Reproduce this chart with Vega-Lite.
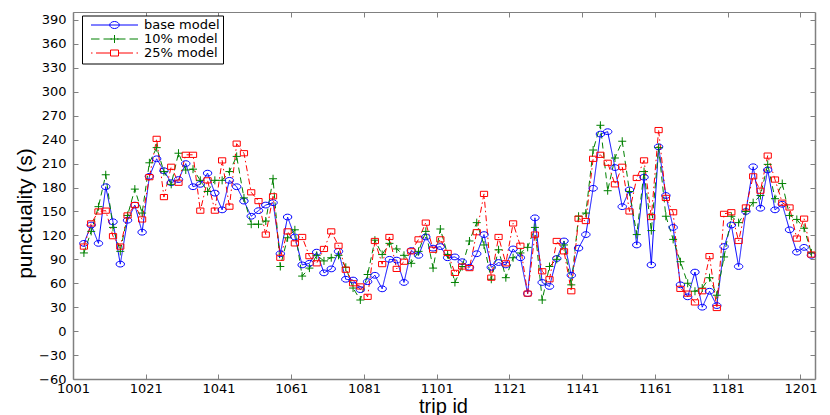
{
  "$schema": "https://vega.github.io/schema/vega-lite/v6.json",
  "autosize": {"type": "none"},
  "width": 742,
  "height": 367,
  "padding": {"left": 73, "top": 12, "right": 15, "bottom": 36},
  "background": "white",
  "data": {
    "values": [
      {"id": 1004, "base model": 110, "10% model": 98, "25% model": 106},
      {"id": 1006, "base model": 133, "10% model": 125, "25% model": 135},
      {"id": 1008, "base model": 110, "10% model": 156, "25% model": 150},
      {"id": 1010, "base model": 181, "10% model": 196, "25% model": 151},
      {"id": 1012, "base model": 137, "10% model": 130, "25% model": 119},
      {"id": 1014, "base model": 84, "10% model": 100, "25% model": 106},
      {"id": 1016, "base model": 139, "10% model": 145, "25% model": 145},
      {"id": 1018, "base model": 158, "10% model": 178, "25% model": 158},
      {"id": 1020, "base model": 124, "10% model": 148, "25% model": 140},
      {"id": 1022, "base model": 194, "10% model": 211, "25% model": 193},
      {"id": 1024, "base model": 216, "10% model": 230, "25% model": 241},
      {"id": 1026, "base model": 201, "10% model": 200, "25% model": 168},
      {"id": 1028, "base model": 186, "10% model": 184, "25% model": 206},
      {"id": 1030, "base model": 190, "10% model": 223, "25% model": 186},
      {"id": 1032, "base model": 210, "10% model": 202, "25% model": 221},
      {"id": 1034, "base model": 181, "10% model": 203, "25% model": 221},
      {"id": 1036, "base model": 184, "10% model": 189, "25% model": 151},
      {"id": 1038, "base model": 198, "10% model": 175, "25% model": 189},
      {"id": 1040, "base model": 173, "10% model": 189, "25% model": 151},
      {"id": 1042, "base model": 152, "10% model": 189, "25% model": 214},
      {"id": 1044, "base model": 189, "10% model": 200, "25% model": 156},
      {"id": 1046, "base model": 181, "10% model": 219, "25% model": 235},
      {"id": 1048, "base model": 163, "10% model": 167, "25% model": 223},
      {"id": 1050, "base model": 144, "10% model": 134, "25% model": 174},
      {"id": 1052, "base model": 151, "10% model": 134, "25% model": 163},
      {"id": 1054, "base model": 158, "10% model": 138, "25% model": 121},
      {"id": 1056, "base model": 161, "10% model": 191, "25% model": 169},
      {"id": 1058, "base model": 97, "10% model": 81, "25% model": 92},
      {"id": 1060, "base model": 143, "10% model": 117, "25% model": 125},
      {"id": 1062, "base model": 118, "10% model": 127, "25% model": 110},
      {"id": 1064, "base model": 83, "10% model": 69, "25% model": 118},
      {"id": 1066, "base model": 85, "10% model": 79, "25% model": 94},
      {"id": 1068, "base model": 99, "10% model": 95, "25% model": 85},
      {"id": 1070, "base model": 73, "10% model": 88, "25% model": 103},
      {"id": 1072, "base model": 78, "10% model": 92, "25% model": 125},
      {"id": 1074, "base model": 100, "10% model": 95, "25% model": 107},
      {"id": 1076, "base model": 65, "10% model": 80, "25% model": 77},
      {"id": 1078, "base model": 64, "10% model": 54, "25% model": 60},
      {"id": 1080, "base model": 52, "10% model": 39, "25% model": 56},
      {"id": 1082, "base model": 62, "10% model": 71, "25% model": 43},
      {"id": 1084, "base model": 70, "10% model": 114, "25% model": 113},
      {"id": 1086, "base model": 53, "10% model": 96, "25% model": 84},
      {"id": 1088, "base model": 90, "10% model": 110, "25% model": 118},
      {"id": 1090, "base model": 89, "10% model": 103, "25% model": 78},
      {"id": 1092, "base model": 61, "10% model": 95, "25% model": 87},
      {"id": 1094, "base model": 101, "10% model": 85, "25% model": 100},
      {"id": 1096, "base model": 95, "10% model": 100, "25% model": 115},
      {"id": 1098, "base model": 118, "10% model": 125, "25% model": 136},
      {"id": 1100, "base model": 104, "10% model": 79, "25% model": 102},
      {"id": 1102, "base model": 106, "10% model": 128, "25% model": 115},
      {"id": 1104, "base model": 92, "10% model": 96, "25% model": 98},
      {"id": 1106, "base model": 93, "10% model": 61, "25% model": 73},
      {"id": 1108, "base model": 87, "10% model": 81, "25% model": 81},
      {"id": 1110, "base model": 80, "10% model": 113, "25% model": 79},
      {"id": 1112, "base model": 97, "10% model": 136, "25% model": 124},
      {"id": 1114, "base model": 121, "10% model": 108, "25% model": 172},
      {"id": 1116, "base model": 80, "10% model": 65, "25% model": 67},
      {"id": 1118, "base model": 86, "10% model": 102, "25% model": 118},
      {"id": 1120, "base model": 83, "10% model": 67, "25% model": 85},
      {"id": 1122, "base model": 103, "10% model": 92, "25% model": 135},
      {"id": 1124, "base model": 92, "10% model": 98, "25% model": 107},
      {"id": 1126, "base model": 47, "10% model": 105, "25% model": 47},
      {"id": 1128, "base model": 142, "10% model": 130, "25% model": 121},
      {"id": 1130, "base model": 61, "10% model": 39, "25% model": 75},
      {"id": 1132, "base model": 56, "10% model": 81, "25% model": 65},
      {"id": 1134, "base model": 91, "10% model": 90, "25% model": 113},
      {"id": 1136, "base model": 113, "10% model": 108, "25% model": 100},
      {"id": 1138, "base model": 70, "10% model": 58, "25% model": 50},
      {"id": 1140, "base model": 104, "10% model": 144, "25% model": 141},
      {"id": 1142, "base model": 121, "10% model": 148, "25% model": 138},
      {"id": 1144, "base model": 179, "10% model": 227, "25% model": 216},
      {"id": 1146, "base model": 247, "10% model": 258, "25% model": 221},
      {"id": 1148, "base model": 250, "10% model": 176, "25% model": 211},
      {"id": 1150, "base model": 205, "10% model": 217, "25% model": 184},
      {"id": 1152, "base model": 156, "10% model": 238, "25% model": 206},
      {"id": 1154, "base model": 177, "10% model": 175, "25% model": 150},
      {"id": 1156, "base model": 108, "10% model": 121, "25% model": 192},
      {"id": 1158, "base model": 193, "10% model": 200, "25% model": 214},
      {"id": 1160, "base model": 83, "10% model": 126, "25% model": 143},
      {"id": 1162, "base model": 231, "10% model": 230, "25% model": 252},
      {"id": 1164, "base model": 170, "10% model": 144, "25% model": 167},
      {"id": 1166, "base model": 130, "10% model": 115, "25% model": 149},
      {"id": 1168, "base model": 58, "10% model": 87, "25% model": 53},
      {"id": 1170, "base model": 43, "10% model": 60, "25% model": 47},
      {"id": 1172, "base model": 74, "10% model": 50, "25% model": 36},
      {"id": 1174, "base model": 30, "10% model": 54, "25% model": 50},
      {"id": 1176, "base model": 50, "10% model": 67, "25% model": 94},
      {"id": 1178, "base model": 32, "10% model": 45, "25% model": 29},
      {"id": 1180, "base model": 106, "10% model": 93, "25% model": 147},
      {"id": 1182, "base model": 133, "10% model": 144, "25% model": 149},
      {"id": 1184, "base model": 81, "10% model": 136, "25% model": 113},
      {"id": 1186, "base model": 150, "10% model": 150, "25% model": 155},
      {"id": 1188, "base model": 206, "10% model": 161, "25% model": 194},
      {"id": 1190, "base model": 154, "10% model": 170, "25% model": 176},
      {"id": 1192, "base model": 202, "10% model": 209, "25% model": 220},
      {"id": 1194, "base model": 152, "10% model": 166, "25% model": 190},
      {"id": 1196, "base model": 159, "10% model": 185, "25% model": 161},
      {"id": 1198, "base model": 127, "10% model": 145, "25% model": 155},
      {"id": 1200, "base model": 99, "10% model": 140, "25% model": 116},
      {"id": 1202, "base model": 105, "10% model": 129, "25% model": 141},
      {"id": 1204, "base model": 95, "10% model": 98, "25% model": 96}
    ]
  },
  "transform": [
    {"fold": ["base model", "10% model", "25% model"], "as": ["model", "punctuality"]}
  ],
  "layer": [
    {
      "mark": {"type": "line", "strokeWidth": 1},
      "encoding": {
        "x": {
          "field": "id",
          "type": "quantitative",
          "scale": {"domain": [1001, 1205], "nice": false, "zero": false},
          "axis": {
            "orient": "bottom",
            "values": [1001, 1021, 1041, 1061, 1081, 1101, 1121, 1141, 1161, 1181, 1201],
            "format": "d",
            "title": "trip id",
            "grid": false,
            "tickSize": -5,
            "labelPadding": 8,
            "labelFlush": false,
            "labelOverlap": false,
            "domainColor": "#808080",
            "domainWidth": 1.5,
            "tickColor": "#808080",
            "labelFont": "DejaVu Sans",
            "labelFontSize": 13,
            "labelColor": "black",
            "titleFont": "Liberation Sans",
            "titleFontSize": 20,
            "titleFontWeight": "normal",
            "titleColor": "black",
            "titleX": 370,
            "titleY": 33,
            "titleBaseline": "alphabetic"
          }
        },
        "y": {
          "field": "punctuality",
          "type": "quantitative",
          "scale": {"domain": [-60, 400], "nice": false, "zero": false},
          "axis": {
            "orient": "left",
            "values": [-60, -30, 0, 30, 60, 90, 120, 150, 180, 210, 240, 270, 300, 330, 360, 390],
            "title": "punctuality (s)",
            "grid": false,
            "tickSize": -5,
            "labelPadding": 12,
            "labelFlush": false,
            "labelOverlap": false,
            "domainColor": "#808080",
            "domainWidth": 1.5,
            "tickColor": "#808080",
            "labelFont": "DejaVu Sans",
            "labelFontSize": 13,
            "labelColor": "black",
            "titleFont": "Liberation Sans",
            "titleFontSize": 21,
            "titleFontWeight": "normal",
            "titleColor": "black",
            "titleAngle": -90,
            "titleX": -48,
            "titleY": 201,
            "titleAlign": "center",
            "titleBaseline": "middle"
          }
        },
        "color": {
          "field": "model",
          "type": "nominal",
          "scale": {
            "domain": ["base model", "10% model", "25% model"],
            "range": ["#0000ff", "#008000", "#ff0000"]
          },
          "legend": null
        },
        "strokeDash": {
          "field": "model",
          "type": "nominal",
          "scale": {
            "domain": ["base model", "10% model", "25% model"],
            "range": [[1, 0], [6, 4], [6, 3, 1.5, 3]]
          },
          "legend": null
        }
      }
    },
    {
      "mark": {"type": "point", "filled": false, "strokeWidth": 1, "size": 64, "opacity": 1},
      "encoding": {
        "x": {
          "field": "id",
          "type": "quantitative",
          "scale": {"domain": [1001, 1205], "nice": false, "zero": false},
          "axis": {
            "orient": "top",
            "values": [1001, 1021, 1041, 1061, 1081, 1101, 1121, 1141, 1161, 1181, 1201],
            "labels": false,
            "title": null,
            "grid": false,
            "tickSize": -5,
            "domainColor": "#808080",
            "domainWidth": 1.2,
            "tickColor": "#808080"
          }
        },
        "y": {
          "field": "punctuality",
          "type": "quantitative",
          "scale": {"domain": [-60, 400], "nice": false, "zero": false},
          "axis": {
            "orient": "right",
            "values": [-60, -30, 0, 30, 60, 90, 120, 150, 180, 210, 240, 270, 300, 330, 360, 390],
            "labels": false,
            "title": null,
            "grid": false,
            "tickSize": -5,
            "domainColor": "#808080",
            "domainWidth": 1.5,
            "tickColor": "#808080"
          }
        },
        "color": {
          "field": "model",
          "type": "nominal",
          "scale": {
            "domain": ["base model", "10% model", "25% model"],
            "range": ["#0000ff", "#008000", "#ff0000"]
          },
          "legend": null
        },
        "shape": {
          "field": "model",
          "type": "nominal",
          "scale": {
            "domain": ["base model", "10% model", "25% model"],
            "range": [
              "M1.05,0A1.05,0.72 0 1,1 -1.05,0A1.05,0.72 0 1,1 1.05,0Z",
              "M-1,0H1M0,-1V1",
              "M-0.9,-0.65H0.9V0.65H-0.9Z"
            ]
          },
          "legend": null
        }
      }
    },
    {
      "mark": {"type": "point", "filled": false, "strokeWidth": 1, "size": 100, "opacity": 0},
      "encoding": {
        "x": {"field": "id", "type": "quantitative", "scale": {"domain": [1001, 1205], "nice": false, "zero": false}, "axis": null},
        "y": {"field": "punctuality", "type": "quantitative", "scale": {"domain": [-60, 400], "nice": false, "zero": false}, "axis": null},
        "color": {
          "field": "model",
          "type": "nominal",
          "scale": {
            "domain": ["base model", "10% model", "25% model"],
            "range": ["#0000ff", "#008000", "#ff0000"]
          },
          "legend": {
            "orient": "none",
            "legendX": 9,
            "legendY": 3.5,
            "title": null,
            "labelFont": "DejaVu Sans",
            "labelFontSize": 13,
            "labelColor": "black",
            "labelBaseline": "middle",
            "symbolSize": 100,
            "symbolOffset": 23,
            "labelOffset": 23,
            "symbolOpacity": 1,
            "symbolStrokeWidth": 1,
            "rowPadding": 0,
            "padding": 3,
            "strokeColor": "black",
            "fillColor": "white"
          }
        },
        "shape": {
          "field": "model",
          "type": "nominal",
          "scale": {
            "domain": ["base model", "10% model", "25% model"],
            "range": [
              "M-4.7,0H4.7M0.95,0A0.95,0.7 0 1,1 -0.95,0A0.95,0.7 0 1,1 0.95,0Z",
              "M-4.7,0H-3M-2.2,0H-0.5M0.5,0H2.2M3,0H4.7M-0.8,0H0.8M0,-0.8V0.8",
              "M-4.7,0H-4.4M-3.7,0H-0.8M0.8,0H3.7M4.4,0H4.7M-0.8,-0.6H0.8V0.6H-0.8Z"
            ]
          },
          "legend": {
            "orient": "none",
            "legendX": 9,
            "legendY": 3.5,
            "title": null
          }
        }
      }
    }
  ],
  "resolve": {
    "axis": {"x": "independent", "y": "independent"},
    "scale": {"color": "independent", "shape": "independent", "strokeDash": "independent"}
  },
  "config": {
    "view": {"stroke": null}
  }
}
